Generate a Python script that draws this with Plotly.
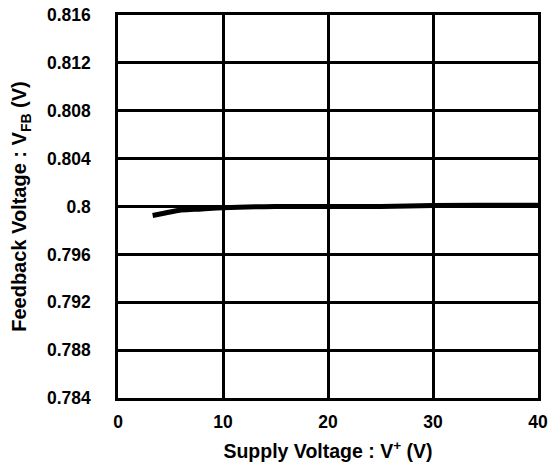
import plotly.graph_objects as go

supply_v = [3.3, 4.5, 6, 8, 10, 15, 20, 25, 30, 35, 40]
feedback_v = [0.79925, 0.79945, 0.79970, 0.79980, 0.79990, 0.80000, 0.80000, 0.80000, 0.80008, 0.80010, 0.80010]

x_ticks = [0, 10, 20, 30, 40]
y_ticks = [0.784, 0.788, 0.792, 0.796, 0.8, 0.804, 0.808, 0.812, 0.816]
y_tick_labels = ["0.784", "0.788", "0.792", "0.796", "0.8", "0.804", "0.808", "0.812", "0.816"]

font_family = "Liberation Sans, Arial, sans-serif"

fig = go.Figure()
fig.add_trace(go.Scatter(x=supply_v, y=feedback_v, mode="lines",
                         line=dict(color="black", width=5, shape="spline"),
                         showlegend=False))

fig.update_layout(
    width=552, height=470,
    margin=dict(l=118, r=14, t=15, b=72),
    paper_bgcolor="white", plot_bgcolor="white",
    font=dict(family=font_family, size=14, color="black"),
)
fig.update_xaxes(
    range=[0, 40], tickvals=x_ticks, ticktext=[str(v) for v in x_ticks],
    showgrid=True, gridcolor="black", gridwidth=2.5,
    showline=True, linecolor="black", linewidth=2.5, mirror=True,
    zeroline=False, ticks="", ticklabelstandoff=6, automargin=False,
    tickfont=dict(family=font_family, size=17.5, color="black", weight="bold"),
    title=dict(text="<b>Supply Voltage : V<sup>+</sup> (V)</b>", standoff=14,
               font=dict(family=font_family, size=19.5, color="black")),
)
fig.update_yaxes(
    range=[0.784, 0.816], tickvals=y_ticks, ticktext=y_tick_labels,
    showgrid=True, gridcolor="black", gridwidth=2.5,
    showline=True, linecolor="black", linewidth=2.5, mirror=True,
    zeroline=False, ticks="", ticklabelstandoff=21, automargin=False,
    tickfont=dict(family=font_family, size=17.5, color="black", weight="bold"),
    title=dict(text="<b>Feedback Voltage : V<sub>FB</sub> (V)</b>", standoff=15,
               font=dict(family=font_family, size=20, color="black")),
)

fig.write_html("out.html")
